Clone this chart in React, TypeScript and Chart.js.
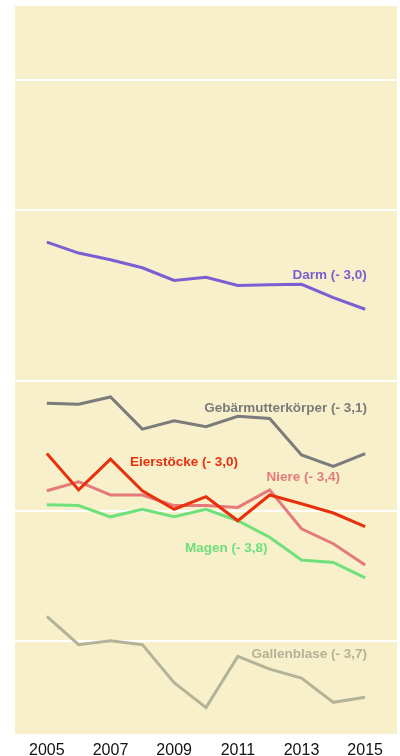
import React, { useEffect, useRef } from "react";
import { Chart, registerables } from "chart.js";

Chart.register(...registerables);

const years = [2005, 2006, 2007, 2008, 2009, 2010, 2011, 2012, 2013, 2014, 2015];
const xTickYears = [2005, 2007, 2009, 2011, 2013, 2015];
const gridValues = [5, 10, 20, 50, 100];

const darm = [42.1, 39.7, 38.3, 36.7, 34.3, 34.9, 33.4, 33.5, 33.6, 31.3, 29.4];
const gebaermutter = [17.8, 17.7, 18.4, 15.5, 16.2, 15.7, 16.6, 16.4, 13.5, 12.7, 13.6];
const eierstoecke = [13.6, 11.2, 13.2, 11.15, 10.1, 10.8, 9.5, 10.9, 10.4, 9.9, 9.2];
const niere = [11.15, 11.7, 10.9, 10.9, 10.3, 10.3, 10.2, 11.2, 9.1, 8.4, 7.5];
const magen = [10.35, 10.3, 9.7, 10.1, 9.7, 10.1, 9.5, 8.7, 7.7, 7.6, 7.0];
const gallenblase = [5.7, 4.9, 5.0, 4.9, 4.0, 3.5, 4.6, 4.3, 4.1, 3.6, 3.7];

const seriesNames = ["Darm", "Gebärmutterkörper", "Eierstöcke", "Niere", "Magen", "Gallenblase"];
const seriesChanges = ["- 3,0", "- 3,1", "- 3,0", "- 3,4", "- 3,8", "- 3,7"];
const seriesValues = [darm, gebaermutter, eierstoecke, niere, magen, gallenblase];
const seriesColors = ["#7b5fd2", "#7b7b7b", "#e8300e", "#e57a7a", "#6fe07a", "#b3b398"];

// label anchors in data coordinates
const labelX = [2015.05, 2015.06, 2007.61, 2014.21, 2009.34, 2015.06];
const labelY = [35.2, 17.3, 13.0, 12.0, 8.2, 4.66];
const labelAlign: CanvasTextAlign[] = ["right", "right", "left", "right", "left", "right"];

const bgPlugin = {
  id: "areaBg",
  beforeDraw(chart: any) {
    const { ctx, chartArea } = chart;
    ctx.save();
    ctx.fillStyle = "#f8f0ca";
    ctx.fillRect(chartArea.left, chartArea.top, chartArea.right - chartArea.left, chartArea.bottom - chartArea.top);
    ctx.restore();
  },
};

const labelPlugin = {
  id: "seriesLabels",
  afterDatasetsDraw(chart: any) {
    const { ctx, scales } = chart;
    ctx.save();
    ctx.font = 'bold 13.5px "Liberation Sans", Arial, sans-serif';
    ctx.textBaseline = "middle";
    seriesNames.forEach((name, i) => {
      ctx.fillStyle = seriesColors[i];
      ctx.textAlign = labelAlign[i];
      const px = scales.x.getPixelForValue(labelX[i]);
      const py = scales.y.getPixelForValue(labelY[i]);
      ctx.fillText(`${name} (${seriesChanges[i]})`, px, py);
    });
    ctx.restore();
  },
};

export default function App() {
  const ref = useRef<HTMLCanvasElement>(null);
  useEffect(() => {
    if (!ref.current) return;
    const chart = new Chart(ref.current, {
      type: "line",
      data: {
        datasets: seriesNames.map((name, i) => ({
          label: name,
          data: years.map((yr, j) => ({ x: yr, y: seriesValues[i][j] })),
          borderColor: seriesColors[i],
          backgroundColor: seriesColors[i],
          borderWidth: 3,
          pointRadius: 0,
          tension: 0,
          fill: false,
        })),
      },
      options: {
        animation: false,
        responsive: true,
        maintainAspectRatio: false,
        layout: { padding: { left: 15, right: 3, top: 6, bottom: -12 } },
        plugins: { legend: { display: false }, tooltip: { enabled: false } },
        scales: {
          x: {
            type: "linear",
            min: 2004,
            max: 2016,
            afterBuildTicks: (axis: any) => {
              axis.ticks = xTickYears.map((v) => ({ value: v }));
            },
            grid: { display: false, drawTicks: false },
            border: { display: false },
            ticks: {
              padding: 9,
              color: "#111111",
              maxRotation: 0,
              autoSkip: false,
              font: { family: '"Liberation Sans", Arial, sans-serif', size: 16, lineHeight: 1 },
              callback: (v: any) => String(v),
            },
          },
          y: {
            type: "logarithmic",
            min: 3.04,
            max: 148.6,
            afterBuildTicks: (axis: any) => {
              axis.ticks = gridValues.map((v) => ({ value: v }));
            },
            grid: { color: "#ffffff", lineWidth: 2, drawTicks: false },
            border: { display: false },
            ticks: { display: false },
          },
        },
      },
      plugins: [bgPlugin, labelPlugin],
    });
    return () => chart.destroy();
  }, []);
  return (
    <div style={{ position: "fixed", left: 0, top: 0, width: 400, height: 756 }}>
      <canvas ref={ref} />
    </div>
  );
}
